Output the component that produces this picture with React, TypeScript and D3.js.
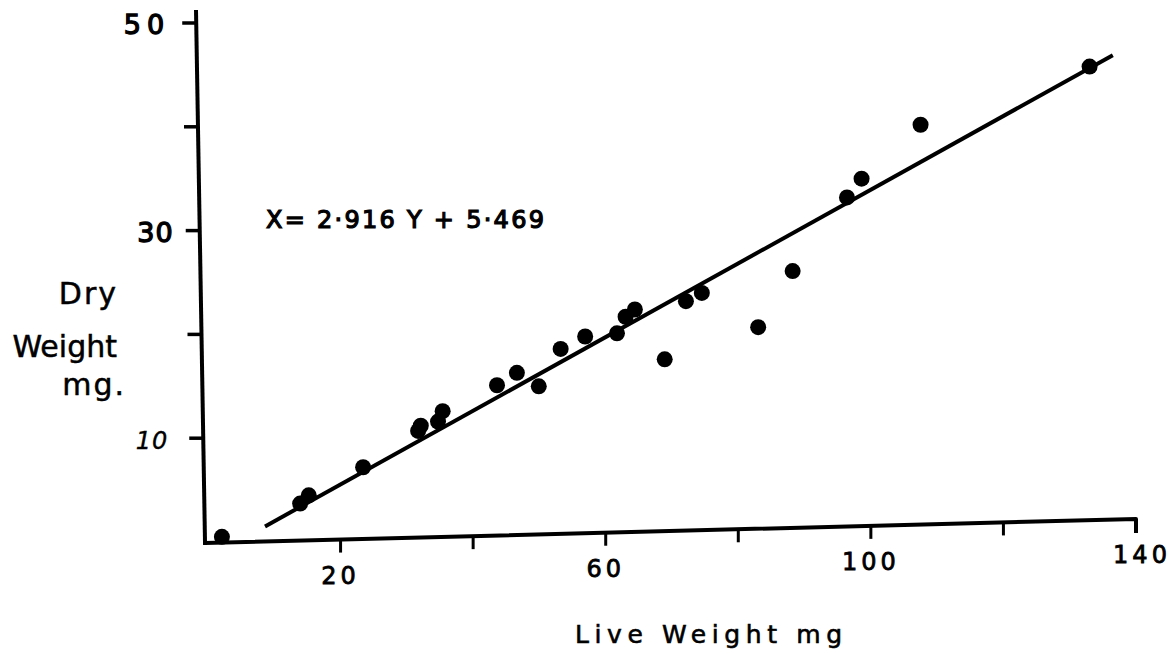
import * as d3 from "d3";

// live weight (mg) vs dry weight (mg)
const liveWeight = [2.1, 13.9, 15.2, 23.4, 31.7, 32.1, 34.7, 35.4, 43.6, 46.6, 49.9, 53.2, 56.9, 61.7, 63.0, 64.4, 68.9, 72.1, 74.5, 83.0, 88.2, 96.4, 98.6, 107.5, 133.0];
const dryWeight = [0.5, 3.7, 4.5, 7.2, 10.7, 11.2, 11.6, 12.6, 15.1, 16.3, 15.0, 18.6, 19.8, 20.1, 21.7, 22.4, 17.6, 23.2, 24.0, 20.7, 26.1, 33.2, 35.0, 40.2, 45.8];

const xTicks = [20, 40, 60, 80, 100, 120, 140];
const xTickLabels = ["20", "", "60", "", "100", "", "140"];
const yTicks = [10, 20, 30, 40, 50];
const yTickLabels = ["10", "", "30", "", "50"];

// fitted line ends (live, dry)
const fitLine: [number, number][] = [[8.6, 1.5], [136.5, 46.9]];
const equation = "X= 2·916 Y + 5·469";

const width = 1175;
const height = 654;
const font = "'DejaVu Sans', sans-serif";

// hand drawn axes lean a little
const xAxisRise = 24; // px the x axis climbs over its length
const yAxisLean = 9; // px the y axis leans left at the top

const App = () => {
    const xScale = d3.scaleLinear().domain([0, 140]).range([208, 1136]);
    const yScale = d3.scaleLinear().domain([0, 50]).range([542, 23]);

    const x0 = xScale(0);
    const y0 = yScale(0);
    const axisY = (v) => y0 + 1 - (xAxisRise * v) / 140;
    const axisX = (py) => x0 - 3 - (yAxisLean * (y0 - py)) / (y0 - 10);

    const line = d3.line<[number, number]>()
        .x((d) => xScale(d[0]))
        .y((d) => yScale(d[1]));

    return (
        <svg width={width} height={height} style={{ position: "absolute", left: 0, top: 0, background: "#fff" }}>
            {/* y axis */}
            <line x1={axisX(10)} y1={10} x2={axisX(y0 + 3)} y2={y0 + 3} stroke="#000" strokeWidth={4} />
            {yTicks.map((t, i) => {
                const py = yScale(t);
                const ax = axisX(py);
                return (
                    <g key={t}>
                        <line x1={ax - 14} y1={py} x2={ax} y2={py} stroke="#000" strokeWidth={3.5} />
                        {yTickLabels[i] && (
                            <text
                                x={ax - (t === 10 ? 35 : 26)}
                                y={py + 11}
                                textAnchor="end"
                                fontFamily={font}
                                fontStyle={t === 10 ? "italic" : "normal"}
                                fontSize={t === 10 ? 24 : 27}
                                letterSpacing={t === 50 ? 6 : 1}
                                stroke="#000"
                                strokeWidth={t === 10 ? 0.4 : 1.3}
                            >
                                {yTickLabels[i]}
                            </text>
                        )}
                    </g>
                );
            })}

            {/* x axis */}
            <polyline
                points={`${axisX(y0 + 1)},${axisY(0)} ${xScale(140)},${axisY(140)} ${xScale(140)},${axisY(140) + 14}`}
                fill="none"
                stroke="#000"
                strokeWidth={4}
                strokeLinejoin="round"
            />
            {xTicks.map((t, i) => {
                const px = xScale(t);
                const py = axisY(t);
                return (
                    <g key={t}>
                        <line x1={px} y1={py} x2={px} y2={py + 13} stroke="#000" strokeWidth={3} />
                        {xTickLabels[i] && (
                            <text
                                x={px + (t === 140 ? 6 : 0)}
                                y={py + 44}
                                textAnchor="middle"
                                fontFamily={font}
                                fontSize={24}
                                letterSpacing={4}
                                stroke="#000"
                                strokeWidth={0.8}
                            >
                                {xTickLabels[i]}
                            </text>
                        )}
                    </g>
                );
            })}

            {/* fitted line */}
            <path d={line(fitLine)} fill="none" stroke="#000" strokeWidth={4} />

            {/* points */}
            {liveWeight.map((v, i) => (
                <circle key={i} cx={xScale(v)} cy={yScale(dryWeight[i])} r={8} fill="#000" />
            ))}

            {/* equation */}
            <text
                x={266}
                y={228}
                fontFamily={font}
                fontSize={24}
                stroke="#000"
                strokeWidth={1.2}
                textLength={278}
                lengthAdjust="spacing"
            >
                {equation}
            </text>

            {/* axis titles */}
            <g fontFamily={font} fontSize={30} textAnchor="end" stroke="#000" strokeWidth={0.5}>
                <text x={118} y={304} letterSpacing={2}>Dry</text>
                <text x={117} y={357}>Weight</text>
                <text x={126} y={395} letterSpacing={2}>mg.</text>
            </g>
            <text
                x={575}
                y={643}
                fontFamily={font}
                fontSize={25}
                stroke="#000"
                strokeWidth={0.6}
                textLength={267}
                lengthAdjust="spacing"
            >
                Live Weight mg
            </text>
        </svg>
    );
};

export default App;
